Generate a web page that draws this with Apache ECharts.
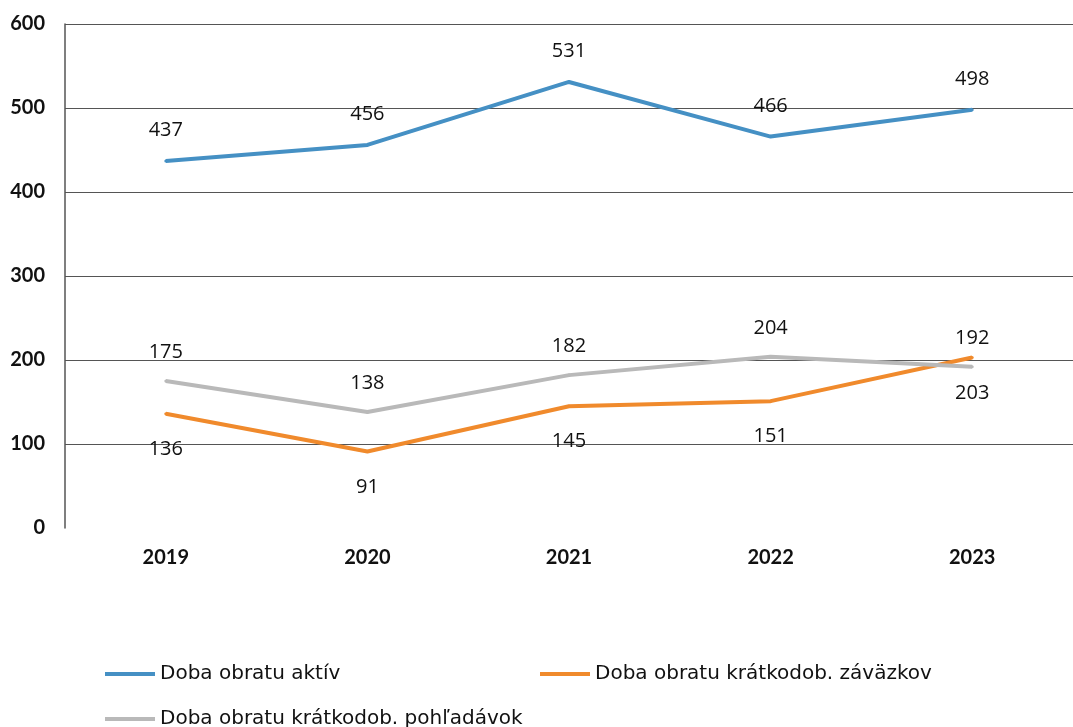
<!DOCTYPE html>
<html>
<head>
<meta charset="utf-8">
<script src="https://cdn.jsdelivr.net/npm/echarts@6/dist/echarts.min.js"></script>
<style>
  html, body { margin: 0; padding: 0; background: #fff; }
  #main { width: 1073px; height: 727px; }
</style>
</head>
<body>
<div id="main"></div>
<script>
// roky
var years = ['2019', '2020', '2021', '2022', '2023'];
// Doba obratu aktív
var aktiv = [437, 456, 531, 466, 498];
// Doba obratu krátkodob. záväzkov
var zavazky = [136, 91, 145, 151, 203];
// Doba obratu krátkodob. pohľadávok
var pohladavky = [175, 138, 182, 204, 192];

var names = ['Doba obratu aktív', 'Doba obratu krátkodob. záväzkov', 'Doba obratu krátkodob. pohľadávok'];
var colors = ['#4590c4', '#f08a2c', '#b9b9b9'];

var myChart = echarts.init(document.getElementById('main'));

var labelStyle = { fontFamily: 'Open Sans', fontSize: 20, color: '#111' };
var legendText = { fontFamily: 'DejaVu Sans', fontSize: 20, color: '#111' };

function legendItem(name, left, top) {
    return {
        data: [name],
        left: left,
        top: top,
        icon: 'rect',
        itemWidth: 50,
        itemHeight: 4,
        itemGap: 0,
        textStyle: legendText,
        selectedMode: false
    };
}

function lineSeries(name, data, pos, dist) {
    return {
        name: name,
        type: 'line',
        data: data,
        symbol: 'circle',
        symbolSize: 3,
        lineStyle: { width: 4 },
        label: Object.assign({ show: true, position: pos, distance: dist }, labelStyle)
    };
}

var option = {
    animation: false,
    color: colors,
    grid: { left: 65, top: 24, width: 1022, bottom: 199 },
    legend: [
        legendItem(names[0], 100, 659),
        legendItem(names[1], 535, 659),
        legendItem(names[2], 100, 704)
    ],
    xAxis: {
        type: 'category',
        data: years,
        boundaryGap: true,
        axisLine: { show: false },
        axisTick: { show: false },
        axisLabel: { margin: 20, fontFamily: 'Lato', fontWeight: 'bold', fontSize: 20, color: '#111' }
    },
    yAxis: {
        type: 'value',
        min: 0,
        max: 600,
        interval: 100,
        axisLine: { show: true, lineStyle: { color: '#555', width: 1.5 } },
        axisTick: { show: false },
        splitLine: { show: true, showMinLine: false, lineStyle: { color: '#555', width: 1 } },
        axisLabel: { margin: 20, fontFamily: 'Lato', fontWeight: 'bold', fontSize: 20, color: '#111' }
    },
    series: [
        lineSeries(names[0], aktiv, 'top', 19),
        lineSeries(names[1], zavazky, 'bottom', 24),
        lineSeries(names[2], pohladavky, 'top', 17)
    ]
};

myChart.setOption(option);
</script>
</body>
</html>
